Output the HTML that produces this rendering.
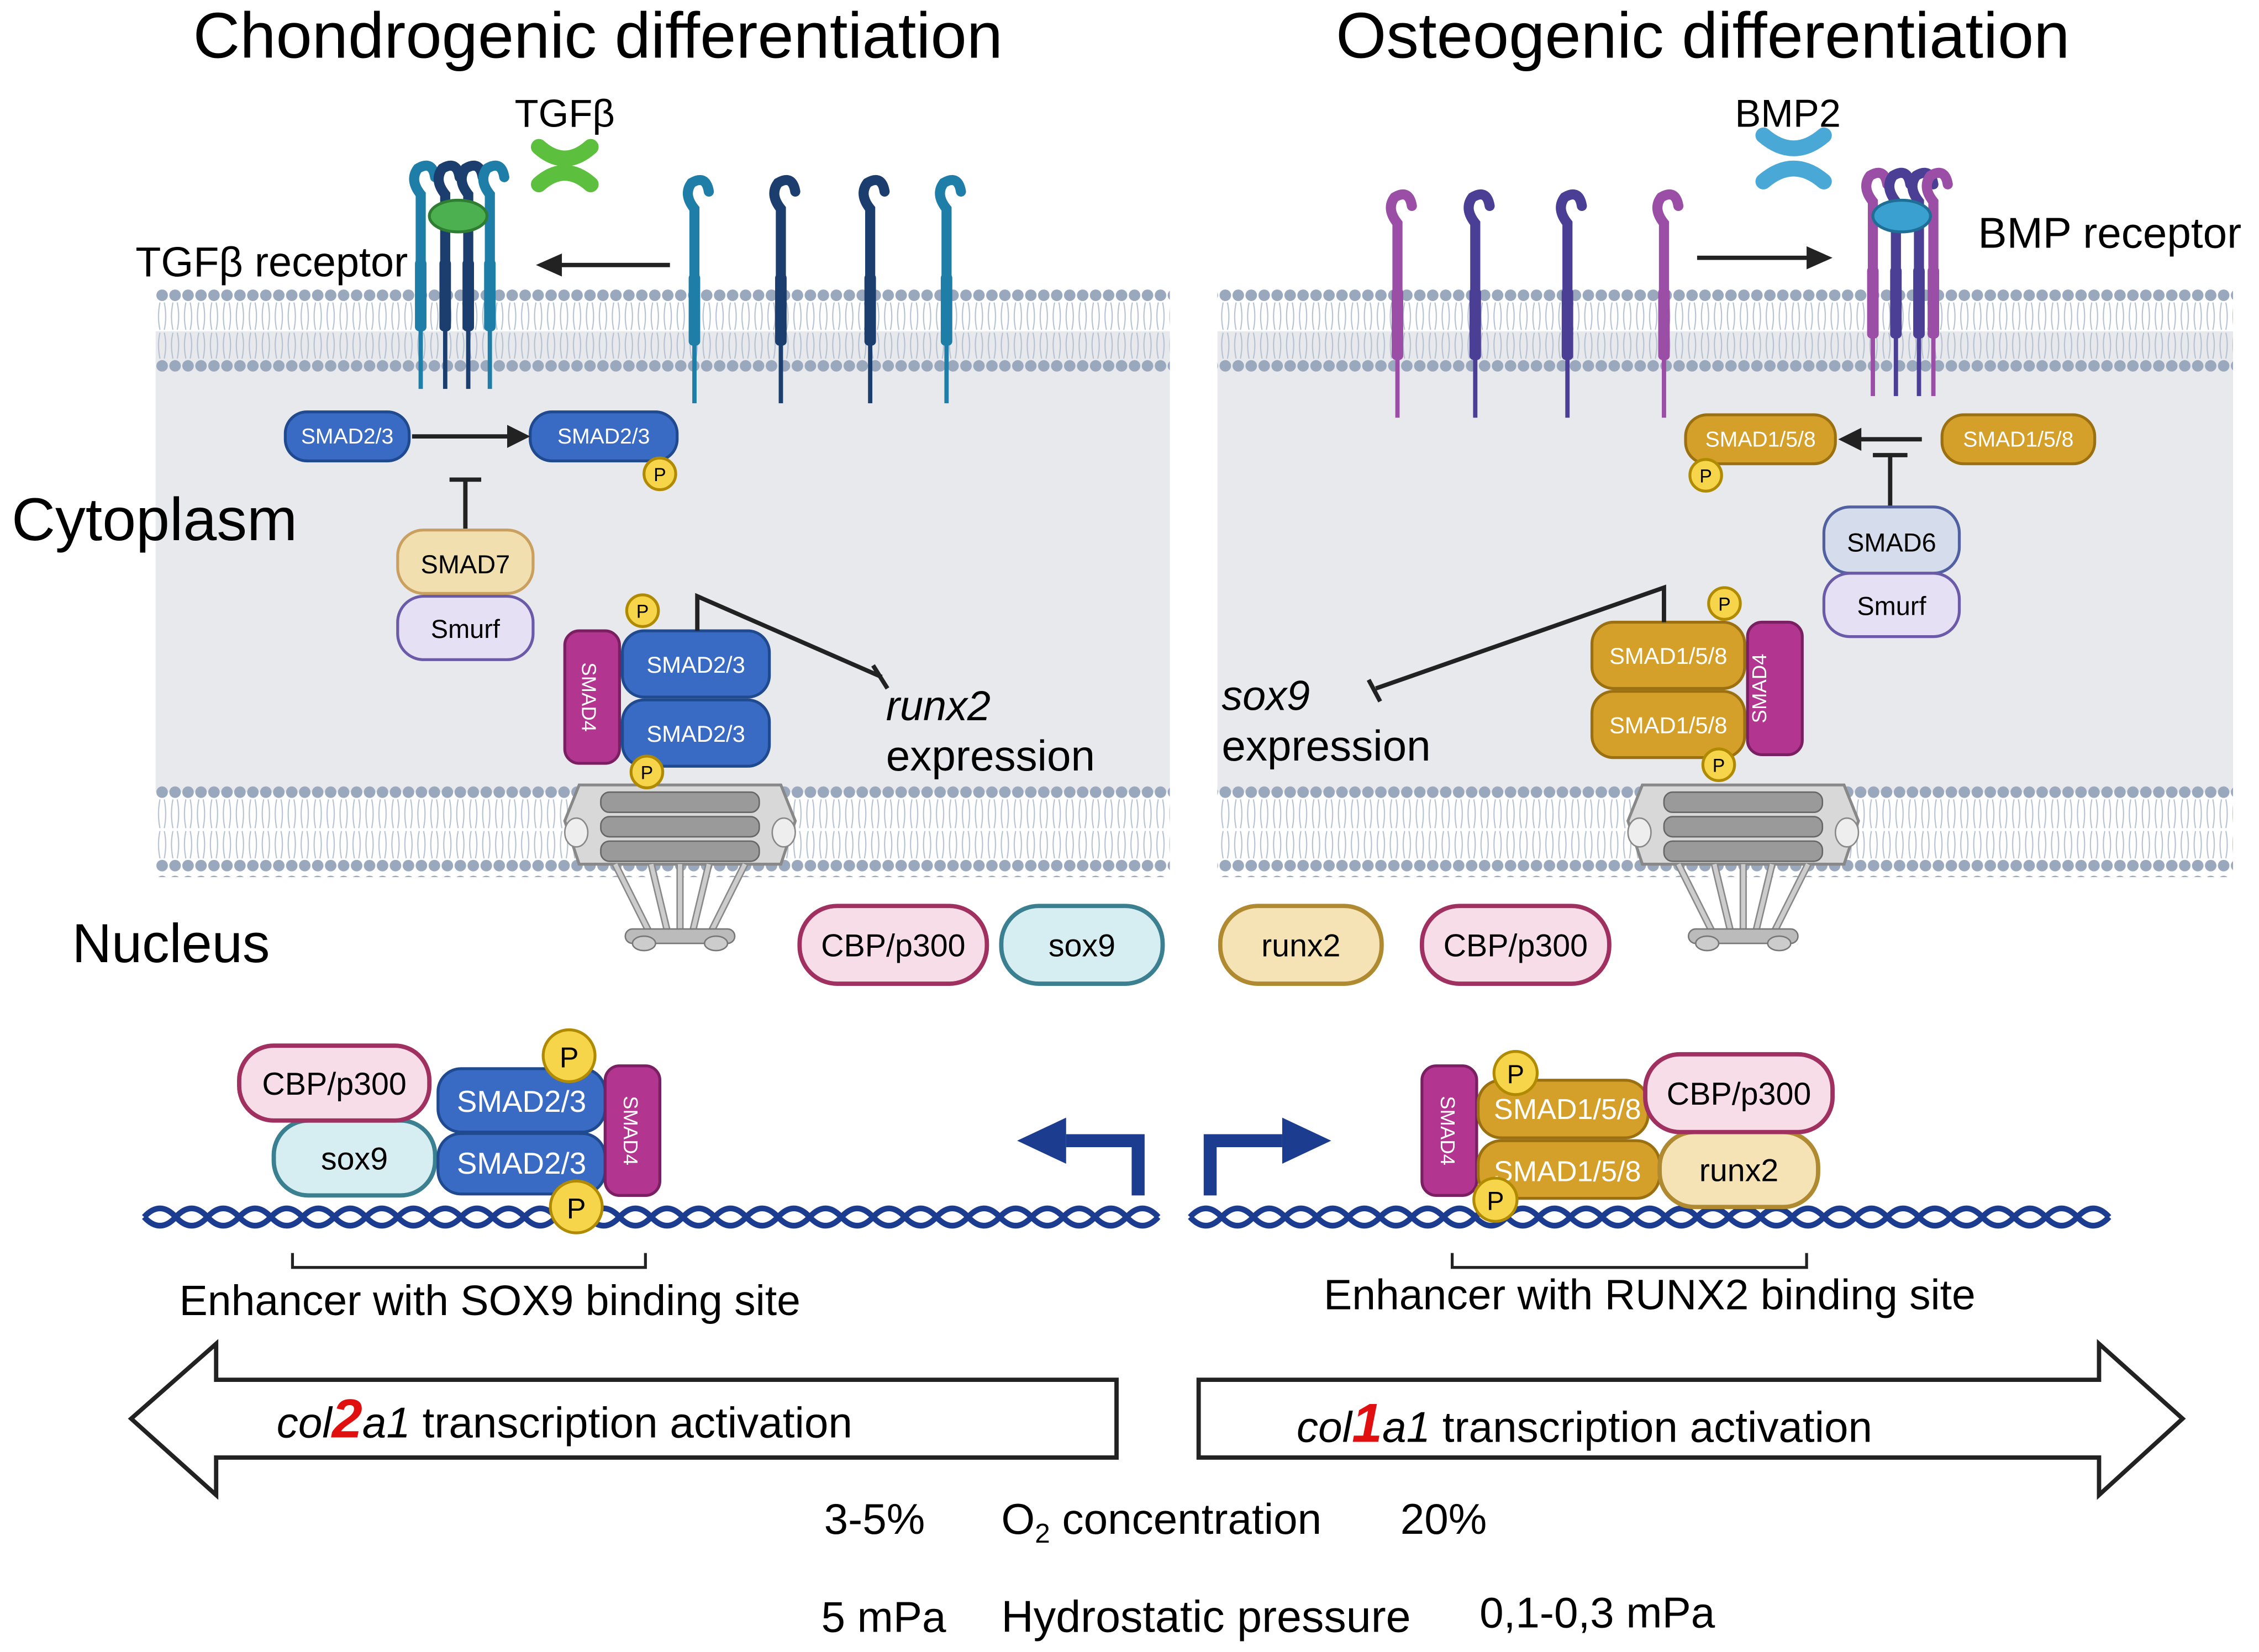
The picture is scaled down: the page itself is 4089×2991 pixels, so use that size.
<!DOCTYPE html>
<html><head><meta charset="utf-8"><style>
html,body{margin:0;padding:0;background:#fff}
svg{display:block}
text{font-family:"Liberation Sans",sans-serif}
</style></head><body>
<svg width="4089" height="2991" viewBox="0 0 1568 1147" xmlns="http://www.w3.org/2000/svg">
<defs>
<pattern id="memA" x="0" y="200" width="9" height="62" patternUnits="userSpaceOnUse">
<circle cx="4.5" cy="5" r="4" fill="#9aa8bd"/>
<circle cx="4.5" cy="54" r="4" fill="#9aa8bd"/>
<path d="M3 10 Q1 20 3 29 M6 10 Q8 20 6 29 M3 49 Q1 39 3 31 M6 49 Q8 39 6 31" stroke="#b5c0d0" stroke-width="0.8" fill="none"/>
</pattern>
<pattern id="memB" x="0" y="545" width="9" height="62" patternUnits="userSpaceOnUse">
<circle cx="4.5" cy="5" r="4" fill="#9aa8bd"/>
<circle cx="4.5" cy="56" r="4" fill="#9aa8bd"/>
<path d="M3 10 Q1 20 3 30 M6 10 Q8 20 6 30 M3 51 Q1 41 3 32 M6 51 Q8 41 6 32" stroke="#b5c0d0" stroke-width="0.8" fill="none"/>
</pattern>
<g id="pore">
<path d="M-70 0 L70 0 L80 25 L70 55 L-70 55 L-80 25 Z" fill="#d8d8d8" stroke="#888" stroke-width="2"/>
<rect x="-55" y="5" width="110" height="14" rx="6" fill="#9a9a9a" stroke="#666"/>
<rect x="-55" y="22" width="110" height="14" rx="6" fill="#9a9a9a" stroke="#666"/>
<rect x="-55" y="39" width="110" height="14" rx="6" fill="#9a9a9a" stroke="#666"/>
<ellipse cx="-72" cy="33" rx="8" ry="10" fill="#eee" stroke="#888"/>
<ellipse cx="72" cy="33" rx="8" ry="10" fill="#eee" stroke="#888"/>
<path d="M-45 55 L-20 105 M-20 55 L-8 105 M20 55 L8 105 M45 55 L20 105 M0 55 L0 105" stroke="#888" stroke-width="5"/>
<path d="M-45 55 L-20 105 M-20 55 L-8 105 M20 55 L8 105 M45 55 L20 105 M0 55 L0 105" stroke="#ccc" stroke-width="3"/>
<rect x="-38" y="100" width="76" height="10" rx="5" fill="#bbb" stroke="#777"/>
<ellipse cx="-25" cy="110" rx="8" ry="5" fill="#ccc" stroke="#777"/>
<ellipse cx="25" cy="110" rx="8" ry="5" fill="#ccc" stroke="#777"/>
</g>
<g id="rec">
<path d="M0 70 L0 -20 Q-8 -30 -2 -38 Q8 -44 10 -32" fill="none" stroke="currentColor" stroke-width="7" stroke-linecap="round"/>
<rect x="-4" y="25" width="8" height="50" rx="3" fill="currentColor"/>
<line x1="0" y1="60" x2="0" y2="115" stroke="currentColor" stroke-width="3"/>
</g>
</defs>

<text x="415" y="40" font-size="45" text-anchor="middle">Chondrogenic differentiation</text>
<text x="1182" y="40" font-size="45" text-anchor="middle">Osteogenic differentiation</text>

<rect x="108" y="230" width="704" height="320" fill="#e8e9ec"/>
<rect x="845" y="230" width="705" height="320" fill="#e8e9ec"/>
<rect x="108" y="200" width="704" height="62" fill="url(#memA)"/>
<rect x="845" y="200" width="705" height="62" fill="url(#memA)"/>
<rect x="108" y="545" width="704" height="64" fill="url(#memB)"/>
<rect x="845" y="545" width="705" height="64" fill="url(#memB)"/>

<text x="8" y="375" font-size="42">Cytoplasm</text>
<text x="50" y="668" font-size="38">Nucleus</text>

<g color="#1f7ea8"><use href="#rec" transform="translate(482,165)"/></g>
<g color="#1c3e6e"><use href="#rec" transform="translate(542,165)"/></g>
<g color="#1c3e6e"><use href="#rec" transform="translate(604,165)"/></g>
<g color="#1f7ea8"><use href="#rec" transform="translate(657,165)"/></g>
<g color="#1f7ea8"><use href="#rec" transform="translate(292,155)"/></g>
<g color="#1c3e6e"><use href="#rec" transform="translate(309,155)"/></g>
<g color="#1c3e6e"><use href="#rec" transform="translate(325,155)"/></g>
<g color="#1f7ea8"><use href="#rec" transform="translate(340,155)"/></g>
<ellipse cx="318" cy="150" rx="20" ry="11" fill="#4caf50" stroke="#2e7d32" stroke-width="2"/>
<path d="M374 102 Q392 118 410 102 M374 128 Q392 112 410 128" stroke="#5cbf3e" stroke-width="11" stroke-linecap="round" fill="none"/>
<text x="392" y="88" font-size="27" text-anchor="middle">TGFβ</text>
<text x="94" y="192" font-size="29">TGFβ receptor</text>
<line x1="465" y1="184" x2="385" y2="184" stroke="#222" stroke-width="3"/>
<path d="M372 184 L390 176 L390 192 Z" fill="#222"/>

<g color="#9b4ea6"><use href="#rec" transform="translate(970,175)"/></g>
<g color="#4a3f95"><use href="#rec" transform="translate(1024,175)"/></g>
<g color="#4a3f95"><use href="#rec" transform="translate(1088,175)"/></g>
<g color="#9b4ea6"><use href="#rec" transform="translate(1155,175)"/></g>
<g color="#9b4ea6"><use href="#rec" transform="translate(1300,160)"/></g>
<g color="#4a3f95"><use href="#rec" transform="translate(1316,160)"/></g>
<g color="#4a3f95"><use href="#rec" transform="translate(1332,160)"/></g>
<g color="#9b4ea6"><use href="#rec" transform="translate(1342,160)"/></g>
<ellipse cx="1320" cy="150" rx="20" ry="11" fill="#3aa0d0" stroke="#1f6e96" stroke-width="2"/>
<path d="M1224 94 Q1245 112 1266 94 M1224 126 Q1245 108 1266 126" stroke="#4aa8d6" stroke-width="11" stroke-linecap="round" fill="none"/>
<text x="1241" y="88" font-size="27" text-anchor="middle">BMP2</text>
<text x="1373" y="172" font-size="30">BMP receptor</text>
<line x1="1178" y1="179" x2="1258" y2="179" stroke="#222" stroke-width="3"/>
<path d="M1272 179 L1254 171 L1254 187 Z" fill="#222"/>

<g font-size="15" fill="#fff" text-anchor="middle">
<rect x="198" y="286" width="86" height="34" rx="15" fill="#3a6bc4" stroke="#1f4a8f" stroke-width="2"/>
<text x="241" y="308">SMAD2/3</text>
<rect x="368" y="286" width="102" height="34" rx="15" fill="#3a6bc4" stroke="#1f4a8f" stroke-width="2"/>
<text x="419" y="308">SMAD2/3</text>
</g>
<line x1="286" y1="303" x2="355" y2="303" stroke="#222" stroke-width="3"/>
<path d="M368 303 L352 295 L352 311 Z" fill="#222"/>
<line x1="323" y1="333" x2="323" y2="368" stroke="#222" stroke-width="3"/>
<line x1="312" y1="333" x2="334" y2="333" stroke="#222" stroke-width="3"/>
<rect x="276" y="368" width="94" height="44" rx="18" fill="#f2dfb0" stroke="#c9a060" stroke-width="2"/>
<text x="323" y="398" font-size="18" text-anchor="middle">SMAD7</text>
<rect x="276" y="414" width="94" height="44" rx="18" fill="#e6e0f5" stroke="#6a5aa8" stroke-width="2"/>
<text x="323" y="443" font-size="18" text-anchor="middle">Smurf</text>

<rect x="392" y="438" width="38" height="92" rx="10" fill="#b2358f" stroke="#7a1f62" stroke-width="2"/>
<text transform="translate(404,484) rotate(90)" font-size="14" fill="#fff" text-anchor="middle">SMAD4</text>
<rect x="432" y="438" width="102" height="46" rx="15" fill="#3a6bc4" stroke="#1f4a8f" stroke-width="2"/>
<text x="483" y="467" font-size="16" fill="#fff" text-anchor="middle">SMAD2/3</text>
<rect x="432" y="486" width="102" height="46" rx="15" fill="#3a6bc4" stroke="#1f4a8f" stroke-width="2"/>
<text x="483" y="515" font-size="16" fill="#fff" text-anchor="middle">SMAD2/3</text>
<polyline points="484,438 484,414 612,470" fill="none" stroke="#222" stroke-width="3"/>
<line x1="606" y1="462" x2="616" y2="478" stroke="#222" stroke-width="3"/>
<text x="615" y="500" font-size="29" font-style="italic">runx2</text>
<text x="615" y="535" font-size="30">expression</text>

<rect x="1170" y="288" width="104" height="34" rx="15" fill="#d4a02a" stroke="#9a7010" stroke-width="2"/>
<text x="1222" y="310" font-size="15" fill="#fff" text-anchor="middle">SMAD1/5/8</text>
<rect x="1348" y="288" width="106" height="34" rx="15" fill="#d4a02a" stroke="#9a7010" stroke-width="2"/>
<text x="1401" y="310" font-size="15" fill="#fff" text-anchor="middle">SMAD1/5/8</text>
<line x1="1334" y1="305" x2="1290" y2="305" stroke="#222" stroke-width="3"/>
<path d="M1276 305 L1292 297 L1292 313 Z" fill="#222"/>
<line x1="1312" y1="316" x2="1312" y2="352" stroke="#222" stroke-width="3"/>
<line x1="1300" y1="316" x2="1324" y2="316" stroke="#222" stroke-width="3"/>
<rect x="1266" y="352" width="94" height="46" rx="18" fill="#d5dcec" stroke="#5060a0" stroke-width="2"/>
<text x="1313" y="383" font-size="18" text-anchor="middle">SMAD6</text>
<rect x="1266" y="398" width="94" height="44" rx="18" fill="#e6e0f5" stroke="#6a5aa8" stroke-width="2"/>
<text x="1313" y="427" font-size="18" text-anchor="middle">Smurf</text>

<rect x="1105" y="432" width="106" height="46" rx="15" fill="#d4a02a" stroke="#9a7010" stroke-width="2"/>
<text x="1158" y="461" font-size="16" fill="#fff" text-anchor="middle">SMAD1/5/8</text>
<rect x="1105" y="480" width="106" height="46" rx="15" fill="#d4a02a" stroke="#9a7010" stroke-width="2"/>
<text x="1158" y="509" font-size="16" fill="#fff" text-anchor="middle">SMAD1/5/8</text>
<rect x="1213" y="432" width="38" height="92" rx="10" fill="#b2358f" stroke="#7a1f62" stroke-width="2"/>
<text transform="translate(1226,478) rotate(-90)" font-size="14" fill="#fff" text-anchor="middle">SMAD4</text>
<polyline points="1155,432 1155,408 955,478" fill="none" stroke="#222" stroke-width="3"/>
<line x1="950" y1="472" x2="958" y2="487" stroke="#222" stroke-width="3"/>
<text x="848" y="493" font-size="29" font-style="italic">sox9</text>
<text x="848" y="528" font-size="30">expression</text>

<use href="#pore" transform="translate(472,545)"/>
<use href="#pore" transform="translate(1210,545)"/>

<g font-size="22" text-anchor="middle">
<rect x="555" y="629" width="130" height="54" rx="26" fill="#f7dde8" stroke="#a03060" stroke-width="3"/>
<text x="620" y="664">CBP/p300</text>
<rect x="695" y="629" width="112" height="54" rx="26" fill="#d6eef2" stroke="#3a8090" stroke-width="3"/>
<text x="751" y="664">sox9</text>
<rect x="847" y="629" width="112" height="54" rx="26" fill="#f5e3b5" stroke="#b08a30" stroke-width="3"/>
<text x="903" y="664">runx2</text>
<rect x="987" y="629" width="130" height="54" rx="26" fill="#f7dde8" stroke="#a03060" stroke-width="3"/>
<text x="1052" y="664">CBP/p300</text>
</g>

<g fill="none" stroke="#1c3d8f" stroke-width="4">
<path d="M100 845 q11 -12 22 0 t22 0 t22 0 t22 0 t22 0 t22 0 t22 0 t22 0 t22 0 t22 0 t22 0 t22 0 t22 0 t22 0 t22 0 t22 0 t22 0 t22 0 t22 0 t22 0 t22 0 t22 0 t22 0 t22 0 t22 0 t22 0 t22 0 t22 0 t22 0 t22 0 t22 0 t22 0"/>
<path d="M100 845 q11 12 22 0 t22 0 t22 0 t22 0 t22 0 t22 0 t22 0 t22 0 t22 0 t22 0 t22 0 t22 0 t22 0 t22 0 t22 0 t22 0 t22 0 t22 0 t22 0 t22 0 t22 0 t22 0 t22 0 t22 0 t22 0 t22 0 t22 0 t22 0 t22 0 t22 0 t22 0 t22 0"/>
<path d="M826 845 q11 -12 22 0 t22 0 t22 0 t22 0 t22 0 t22 0 t22 0 t22 0 t22 0 t22 0 t22 0 t22 0 t22 0 t22 0 t22 0 t22 0 t22 0 t22 0 t22 0 t22 0 t22 0 t22 0 t22 0 t22 0 t22 0 t22 0 t22 0 t22 0 t22 0"/>
<path d="M826 845 q11 12 22 0 t22 0 t22 0 t22 0 t22 0 t22 0 t22 0 t22 0 t22 0 t22 0 t22 0 t22 0 t22 0 t22 0 t22 0 t22 0 t22 0 t22 0 t22 0 t22 0 t22 0 t22 0 t22 0 t22 0 t22 0 t22 0 t22 0 t22 0 t22 0"/>
</g>
<path d="M790 830 L790 792 L740 792" fill="none" stroke="#1c3d8f" stroke-width="9"/>
<path d="M706 792 L740 776 L740 808 Z" fill="#1c3d8f"/>
<path d="M840 830 L840 792 L890 792" fill="none" stroke="#1c3d8f" stroke-width="9"/>
<path d="M924 792 L890 776 L890 808 Z" fill="#1c3d8f"/>

<rect x="190" y="778" width="112" height="52" rx="24" fill="#d6eef2" stroke="#3a8090" stroke-width="3"/>
<text x="246" y="812" font-size="22" text-anchor="middle">sox9</text>
<rect x="166" y="726" width="132" height="52" rx="24" fill="#f7dde8" stroke="#a03060" stroke-width="3"/>
<text x="232" y="760" font-size="22" text-anchor="middle">CBP/p300</text>
<rect x="304" y="742" width="116" height="44" rx="16" fill="#3a6bc4" stroke="#1f4a8f" stroke-width="2"/>
<text x="362" y="772" font-size="21" fill="#fff" text-anchor="middle">SMAD2/3</text>
<rect x="304" y="787" width="116" height="42" rx="16" fill="#3a6bc4" stroke="#1f4a8f" stroke-width="2"/>
<text x="362" y="815" font-size="21" fill="#fff" text-anchor="middle">SMAD2/3</text>
<rect x="420" y="740" width="38" height="90" rx="10" fill="#b2358f" stroke="#7a1f62" stroke-width="2"/>
<text transform="translate(433,785) rotate(90)" font-size="14" fill="#fff" text-anchor="middle">SMAD4</text>
<path d="M203 870 L203 880 L448 880 L448 870" fill="none" stroke="#222" stroke-width="2"/>
<text x="340" y="913" font-size="29.5" text-anchor="middle">Enhancer with SOX9 binding site</text>

<rect x="987" y="740" width="38" height="90" rx="10" fill="#b2358f" stroke="#7a1f62" stroke-width="2"/>
<text transform="translate(1000,785) rotate(90)" font-size="14" fill="#fff" text-anchor="middle">SMAD4</text>
<rect x="1026" y="750" width="118" height="40" rx="16" fill="#d4a02a" stroke="#9a7010" stroke-width="2"/>
<text x="1088" y="777" font-size="20" fill="#fff" text-anchor="middle">SMAD1/5/8</text>
<rect x="1026" y="792" width="126" height="40" rx="16" fill="#d4a02a" stroke="#9a7010" stroke-width="2"/>
<text x="1088" y="820" font-size="20" fill="#fff" text-anchor="middle">SMAD1/5/8</text>
<rect x="1152" y="786" width="110" height="52" rx="24" fill="#f5e3b5" stroke="#b08a30" stroke-width="3"/>
<text x="1207" y="820" font-size="22" text-anchor="middle">runx2</text>
<rect x="1142" y="732" width="130" height="54" rx="24" fill="#f7dde8" stroke="#a03060" stroke-width="3"/>
<text x="1207" y="767" font-size="22" text-anchor="middle">CBP/p300</text>
<path d="M1008 870 L1008 880 L1254 880 L1254 870" fill="none" stroke="#222" stroke-width="2"/>
<text x="1145" y="909" font-size="29.5" text-anchor="middle">Enhancer with RUNX2 binding site</text>

<g fill="#f7d54a" stroke="#b08a00" stroke-width="2">
<circle cx="458" cy="329" r="11"/><circle cx="446" cy="424" r="11"/><circle cx="449" cy="536" r="11"/>
<circle cx="1184" cy="330" r="11"/><circle cx="1197" cy="419" r="11"/><circle cx="1193" cy="531" r="11"/>
<circle cx="395" cy="733" r="18"/><circle cx="400" cy="838" r="18"/>
<circle cx="1052" cy="745" r="15"/><circle cx="1038" cy="833" r="15"/>
</g>
<g font-size="13" text-anchor="middle">
<text x="458" y="334">P</text><text x="446" y="429">P</text><text x="449" y="541">P</text>
<text x="1184" y="335">P</text><text x="1197" y="424">P</text><text x="1193" y="536">P</text>
<text x="395" y="741" font-size="20">P</text><text x="400" y="846" font-size="20">P</text>
<text x="1052" y="752" font-size="18">P</text><text x="1038" y="840" font-size="18">P</text>
</g>

<path d="M91 985 L150 933 L150 958 L775 958 L775 1012 L150 1012 L150 1038 Z" fill="#fff" stroke="#222" stroke-width="3"/>
<path d="M1515 985 L1457 933 L1457 958 L832 958 L832 1012 L1457 1012 L1457 1038 Z" fill="#fff" stroke="#222" stroke-width="3"/>
<text x="192" y="998" font-size="30"><tspan font-style="italic">col</tspan><tspan font-style="italic" font-weight="bold" fill="#e01010" font-size="38">2</tspan><tspan font-style="italic">a1</tspan> transcription activation</text>
<text x="900" y="1001" font-size="30"><tspan font-style="italic">col</tspan><tspan font-style="italic" font-weight="bold" fill="#e01010" font-size="38">1</tspan><tspan font-style="italic">a1</tspan> transcription activation</text>

<g font-size="30">
<text x="572" y="1065">3-5%</text>
<text x="695" y="1065">O<tspan font-size="19" dy="6">2</tspan><tspan dy="-6"> concentration</tspan></text>
<text x="972" y="1065">20%</text>
<text x="570" y="1133">5 mPa</text>
<text x="695" y="1133" font-size="31">Hydrostatic pressure</text>
<text x="1027" y="1130">0,1-0,3 mPa</text>
</g>
</svg>
</body></html>
